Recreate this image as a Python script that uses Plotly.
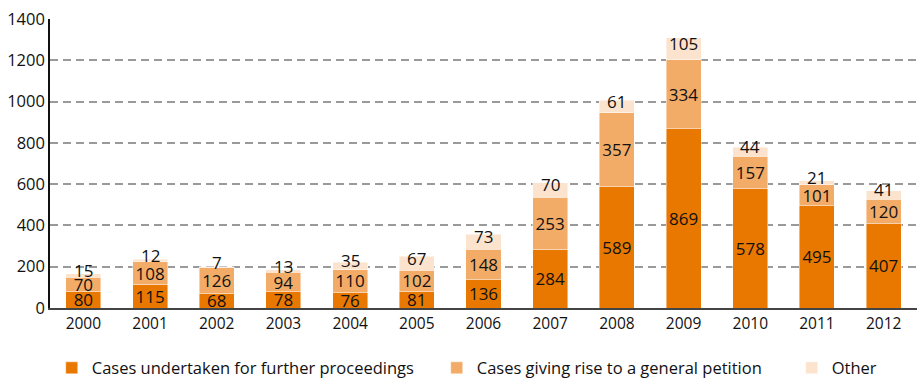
import plotly.graph_objects as go

years = ["2000", "2001", "2002", "2003", "2004", "2005", "2006",
         "2007", "2008", "2009", "2010", "2011", "2012"]
further_proceedings = [80, 115, 68, 78, 76, 81, 136, 284, 589, 869, 578, 495, 407]
general_petition = [70, 108, 126, 94, 110, 102, 148, 253, 357, 334, 157, 101, 120]
other = [15, 12, 7, 13, 35, 67, 73, 70, 61, 105, 44, 21, 41]

names = ["Cases undertaken for further proceedings",
         "Cases giving rise to a general petition",
         "Other"]
colors = ["#E97800", "#F2AC68", "#FCE3CD"]
FONT = "Open Sans, Liberation Sans, sans-serif"

fig = go.Figure()
series = [further_proceedings, general_petition, other]
widths = [340, 310, 40]
for vals, name, col, lw in zip(series, names, colors, widths):
    show_text = vals is not other
    fig.add_trace(go.Bar(
        x=years, y=vals, name=name,
        marker=dict(color=col, line=dict(color="rgba(255,255,255,0.55)", width=0.8)),
        text=[str(v) for v in vals] if show_text else None,
        textposition="inside" if show_text else "none",
        insidetextanchor="middle",
        textangle=0,
        constraintext="none",
        textfont=dict(family=FONT, size=17, color="#111111"),
        legendwidth=lw,
        hoverinfo="x+y+name",
    ))

# labels for the thin top segment sit slightly above its middle
# (x given as category index so the year strings are not read as numbers)
base = [a + b for a, b in zip(further_proceedings, general_petition)]
for i, (b, v) in enumerate(zip(base, other)):
    fig.add_annotation(x=i, y=b + v / 2, text=str(v), showarrow=False,
                       yshift=5, font=dict(family=FONT, size=17, color="#111111"))

fig.update_layout(
    barmode="stack",
    bargap=0.475,
    width=917, height=380,
    margin=dict(l=50, r=0, t=19, b=72, autoexpand=False),
    paper_bgcolor="white", plot_bgcolor="white",
    font=dict(family=FONT, size=15, color="#111111"),
    legend=dict(orientation="h", x=0.002, xanchor="left", y=-0.208, yanchor="middle",
                font=dict(family=FONT, size=16.5, color="#111111"),
                itemwidth=30, traceorder="normal"),
    xaxis=dict(type="category", range=[-0.5, len(years) - 0.5],
               showline=True, linecolor="#444444", linewidth=2,
               ticks="", tickfont=dict(size=15.5), showgrid=False),
    yaxis=dict(range=[0, 1400], dtick=200, showline=True, linecolor="#111111",
               linewidth=1.5, ticks="", tickfont=dict(size=16.5),
               showgrid=True, gridcolor="#9a9a9a", gridwidth=1.5,
               griddash="8px,5px", zeroline=False),
)

fig.write_html("out.html")
